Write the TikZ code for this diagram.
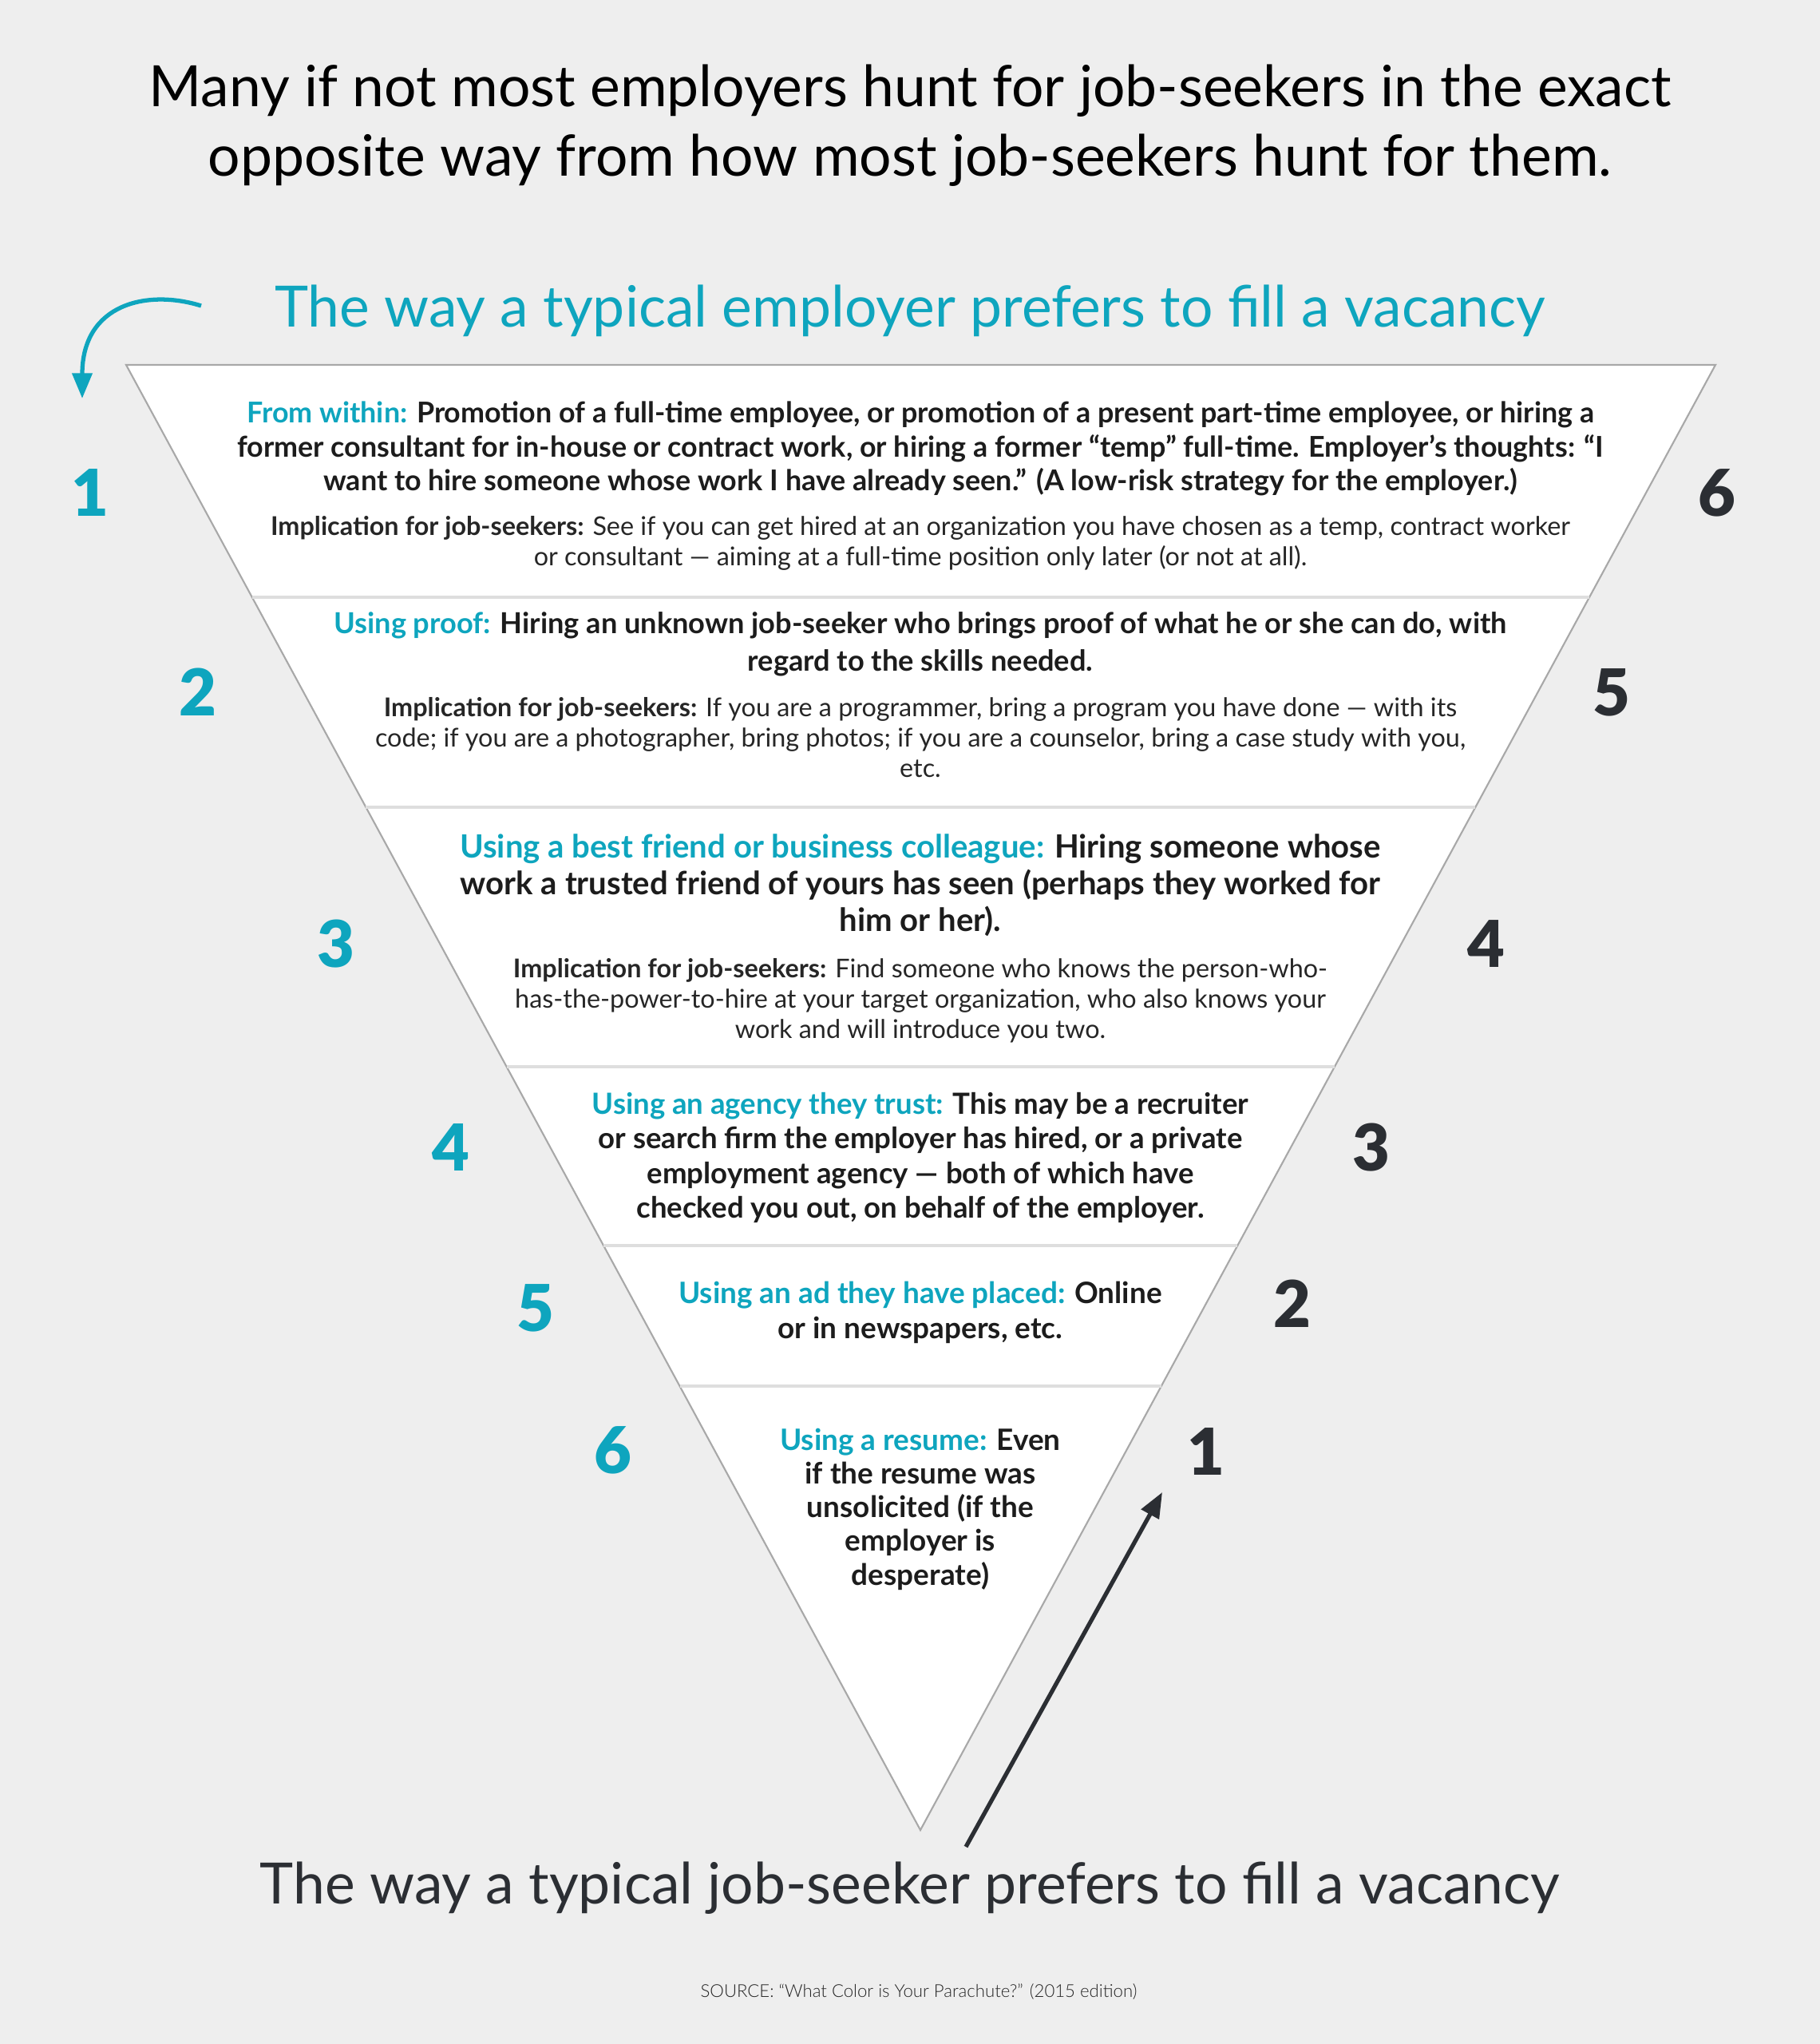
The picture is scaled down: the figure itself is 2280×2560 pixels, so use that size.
\documentclass[tikz,border=0pt]{standalone}
\usepackage{fontspec}
\setmainfont{Lato}
\newfontfamily\heavyface{Lato Black}
\newfontfamily\lightface{Lato Light}
\usepackage{tikz}
\usetikzlibrary{arrows.meta,calc}
\definecolor{paper}{RGB}{238,238,238}
\definecolor{vacteal}{RGB}{14,165,190}
\definecolor{inkdark}{RGB}{28,28,28}
\definecolor{hintgrey}{RGB}{38,38,38}
\definecolor{slate}{RGB}{43,46,51}
\definecolor{edgegrey}{RGB}{168,168,168}
\definecolor{rulegrey}{RGB}{222,222,222}
\tikzset{
  panel/.style={fill=white,draw=edgegrey,line width=0.6pt},
  rule/.style={draw=rulegrey,line width=0.9pt},
  flow/.style={-{Triangle[length=9pt,width=7pt]},line width=1.5pt},
  blurb/.style={align=center,inner sep=0pt,text=inkdark,font=\bfseries},
  hint/.style={align=center,inner sep=0pt,text=hintgrey,font=\fontsize{9.2}{10.8}\selectfont},
  rank/.style={inner sep=0pt,font=\heavyface\fontsize{23}{23}\selectfont},
  emprank/.style={rank,text=vacteal},
  seekrank/.style={rank,text=slate},
  head/.style={align=center,inner sep=0pt,font=\fontsize{20.3}{24.7}\selectfont},
}
\newcommand{\leadin}[1]{\textcolor{vacteal}{#1}}
\newcommand{\implnote}{\textbf{Implication for job-seekers:}}

\begin{document}
\begin{tikzpicture}[x=0.01cm,y=-0.01cm]
  \fill[paper] (0,0) rectangle (2280,2560);
  \useasboundingbox (0,0) rectangle (2280,2560);

  \node[head,text=black] (claim) at (1140,157)
    {Many if not most employers hunt for job-seekers in the exact\\
     opposite way from how most job-seekers hunt for them.};
  \node[head,text=vacteal] (employerway) at (1140,389)
    {The way a typical employer prefers to fill a vacancy};

  % the funnel
  \coordinate (tl) at (158,457);
  \coordinate (tr) at (2149,457);
  \coordinate (apex) at (1153,2292);
  \path[panel] (tl) -- (tr) -- (apex) -- cycle;
  \foreach \t in {0.1586,0.3019,0.4790,0.6011,0.6970}
    \draw[rule] ($(tl)!\t!(apex)$) -- ($(tr)!\t!(apex)$);

  % ranks, employer side and job-seeker side
  \node[emprank] (e1) at (113,617) {1};
  \node[emprank] (e2) at (248,867) {2};
  \node[emprank] (e3) at (421,1182) {3};
  \node[emprank] (e4) at (565,1437) {4};
  \node[emprank] (e5) at (671,1638) {5};
  \node[emprank] (e6) at (768,1816) {6};
  \node[seekrank] (s6) at (2151,617) {6};
  \node[seekrank] (s5) at (2019,867) {5};
  \node[seekrank] (s4) at (1862,1182) {4};
  \node[seekrank] (s3) at (1718,1437) {3};
  \node[seekrank] (s2) at (1619,1633) {2};
  \node[seekrank] (s1) at (1511,1818) {1};

  \node[blurb,font=\bfseries\fontsize{10.2}{12}\selectfont] (within) at (1153,562)
    {\leadin{From within:} Promotion of a full-time employee, or promotion of a present part-time employee, or hiring a\\
     former consultant for in-house or contract work, or hiring a former “temp” full-time. Employer’s thoughts: “I\\
     want to hire someone whose work I have already seen.” (A low-risk strategy for the employer.)};
  \node[hint] (withinhint) at (1153,680)
    {\implnote{} See if you can get hired at an organization you have chosen as a temp, contract worker\\
     or consultant — aiming at a full-time position only later (or not at all).};

  \node[blurb,font=\bfseries\fontsize{10.3}{13.4}\selectfont] (proof) at (1153,807)
    {\leadin{Using proof:} Hiring an unknown job-seeker who brings proof of what he or she can do, with\\
     regard to the skills needed.};
  \node[hint] (proofhint) at (1153,924)
    {\implnote{} If you are a programmer, bring a program you have done — with its\\
     code; if you are a photographer, bring photos; if you are a counselor, bring a case study with you,\\
     etc.};

  \node[blurb,font=\bfseries\fontsize{11.4}{13.1}\selectfont] (friend) at (1153,1109)
    {\leadin{Using a best friend or business colleague:} Hiring someone whose\\
     work a trusted friend of yours has seen (perhaps they worked for\\
     him or her).};
  \node[hint] (friendhint) at (1153,1253)
    {\implnote{} Find someone who knows the person-who-\\
     has-the-power-to-hire at your target organization, who also knows your\\
     work and will introduce you two.};

  \node[blurb,font=\bfseries\fontsize{10.4}{12.4}\selectfont] (agency) at (1153,1450)
    {\leadin{Using an agency they trust:} This may be a recruiter\\
     or search firm the employer has hired, or a private\\
     employment agency — both of which have\\
     checked you out, on behalf of the employer.};

  \node[blurb,font=\bfseries\fontsize{10.5}{12.5}\selectfont] (advert) at (1153,1644)
    {\leadin{Using an ad they have placed:} Online\\
     or in newspapers, etc.};

  \node[blurb,font=\bfseries\fontsize{10.5}{12}\selectfont] (resume) at (1153,1890)
    {\leadin{Using a resume:} Even\\
     if the resume was\\
     unsolicited (if the\\
     employer is\\
     desperate)};

  % the two directions
  \coordinate (curlfrom) at (252,383);
  \coordinate (curlto) at (103,499);
  \draw[flow,vacteal] (curlfrom) .. controls (185,362) and (103,380) .. (curlto);
  \coordinate (risefrom) at (1210,2313);
  \coordinate (riseto) at (1456,1869);
  \draw[flow,slate] (risefrom) -- (riseto);

  \node[head,text=slate] (seekerway) at (1140,2365)
    {The way a typical job-seeker prefers to fill a vacancy};
  \node[inner sep=0pt,text=hintgrey,font=\lightface\fontsize{6.3}{8}\selectfont] (source) at (1151,2494)
    {SOURCE: “What Color is Your Parachute?” (2015 edition)};
\end{tikzpicture}
\end{document}
